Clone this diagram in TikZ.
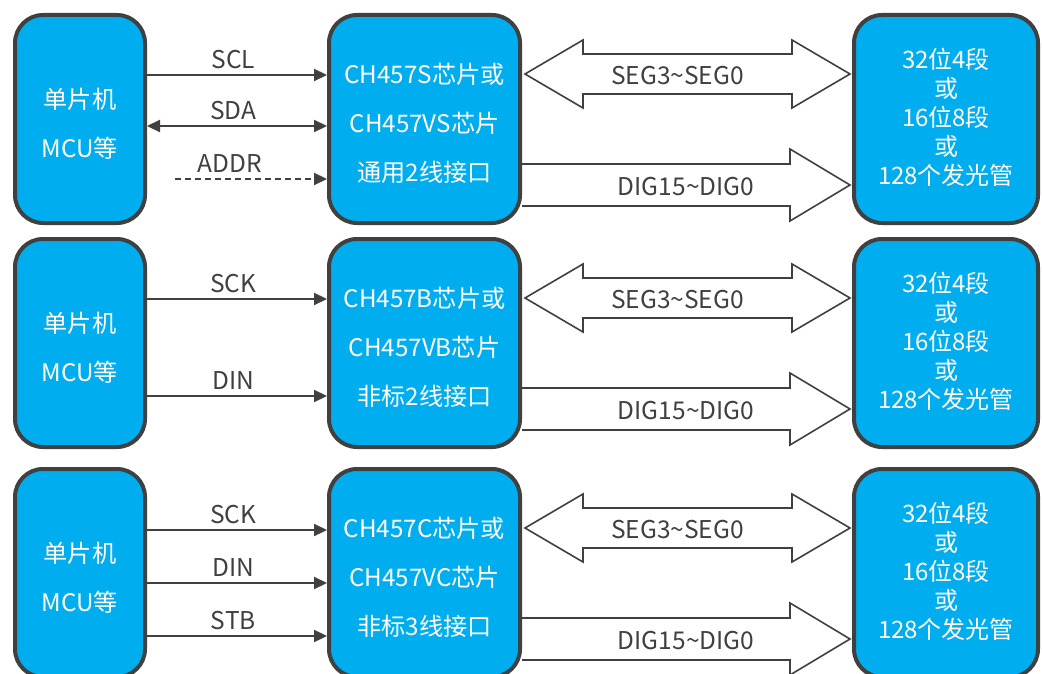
\documentclass[tikz,border=0pt]{standalone}
\usepackage{fontspec}
\setmainfont{Noto Sans CJK SC}
\usetikzlibrary{arrows.meta,calc}
\definecolor{boxblue}{RGB}{0,174,239}
\definecolor{edge}{RGB}{64,64,64}
\begin{document}
\begin{tikzpicture}[x=1pt,y=-1pt,
  blk/.style={draw=edge, line width=4pt, fill=boxblue, rounded corners=28pt,
    inner sep=0pt, minimum height=208pt},
  intext/.style={text=white, align=center, inner sep=0pt,
    font=\fontsize{24.2}{49}\selectfont},
  ledtext/.style={intext, font=\fontsize{24}{29}\selectfont},
  mcu/.style={blk, minimum width=130pt},
  chip/.style={blk, minimum width=191pt},
  led/.style={blk, minimum width=184pt},
  sig/.style={draw=edge, line width=2.2pt, -{Triangle[length=13pt,width=12pt]}},
  bisig/.style={sig, {Triangle[length=13pt,width=12pt]}-{Triangle[length=13pt,width=12pt]}},
  lbl/.style={text=edge, inner sep=0pt, font=\fontsize{24.5}{24.5}\selectfont},
  hollow/.style={draw=edge, line width=1.6pt, line join=miter, fill=white}
]
\useasboundingbox (0,0) rectangle (1042,674);
\clip (0,0) rectangle (1042,674);
\fill[white] (0,0) rectangle (1042,674);

% ---------- row 1 ----------
\node[mcu, label={[intext, yshift=-5pt]center:{单片机\\MCU等}}] (l1) at (80,119) {};
\node[chip, label={[intext, yshift=-4pt]center:{CH457S芯片或\\CH457VS芯片\\通用2线接口}}] (m1) at (424.5,119) {};
\node[led, label={[ledtext, yshift=2pt]center:{32位4段\\或\\16位8段\\或\\128个发光管}}] (r1) at (946,119) {};
\draw[sig]   ([yshift=44pt]l1.east) -- node[lbl, above=5pt, pos=.48] {SCL} ([yshift=44pt]m1.west);
\draw[bisig] ([yshift=-7pt]l1.east) -- node[lbl, above=5pt, pos=.48] {SDA} ([yshift=-7pt]m1.west);
\coordinate (a1) at (175,179);
\draw[sig, dash pattern=on 6pt off 4pt] (a1) -- node[lbl, above=5pt, pos=.36] {ADDR} (a1 -| m1.west);

% ---------- row 2 ----------
\node[mcu, label={[intext, yshift=-5pt]center:{单片机\\MCU等}}] (l2) at (80,343) {};
\node[chip, label={[intext, yshift=-4pt]center:{CH457B芯片或\\CH457VB芯片\\非标2线接口}}] (m2) at (424.5,343) {};
\node[led, label={[ledtext, yshift=2pt]center:{32位4段\\或\\16位8段\\或\\128个发光管}}] (r2) at (946,343) {};
\draw[sig] ([yshift=44pt]l2.east) -- node[lbl, above=5pt, pos=.48] {SCK} ([yshift=44pt]m2.west);
\draw[sig] ([yshift=-53pt]l2.east) -- node[lbl, above=5pt, pos=.48] {DIN} ([yshift=-53pt]m2.west);

% ---------- row 3 ----------
\node[mcu, label={[intext, yshift=-5pt]center:{单片机\\MCU等}}] (l3) at (80,573) {};
\node[chip, label={[intext, yshift=-4pt]center:{CH457C芯片或\\CH457VC芯片\\非标3线接口}}] (m3) at (424.5,573) {};
\node[led, label={[ledtext, yshift=2pt]center:{32位4段\\或\\16位8段\\或\\128个发光管}}] (r3) at (946,573) {};
\draw[sig] ([yshift=43pt]l3.east) -- node[lbl, above=5pt, pos=.48] {SCK} ([yshift=43pt]m3.west);
\draw[sig] ([yshift=-10pt]l3.east) -- node[lbl, above=5pt, pos=.48] {DIN} ([yshift=-10pt]m3.west);
\draw[sig] ([yshift=-63pt]l3.east) -- node[lbl, above=5pt, pos=.48] {STB} ([yshift=-63pt]m3.west);

% ---------- hollow bus arrows ----------
\foreach \i in {1,2,3} {
  \coordinate (sa\i) at ([shift={(3,-45)}]m\i.east);
  \coordinate (sb\i) at ([shift={(-2,-45)}]r\i.west);
  \draw[hollow] (sa\i) -- ++(58,-34) -- ++(0,14) -- ($(sb\i)+(-58,-20)$) -- ++(0,-14)
     -- (sb\i) -- ++(-58,34) -- ++(0,-14) -- ($(sa\i)+(58,20)$) -- ++(0,14) -- cycle;
  \node[lbl] at ($($(sa\i)!.5!(sb\i)$)+(-10,2)$) {SEG3\textasciitilde SEG0};
  \coordinate (da\i) at ([yshift=-66pt]m\i.east);
  \coordinate (db\i) at ([shift={(-2,66)}]r\i.west);
  \draw[hollow, fill=none] ($(da\i)+(0,-21)$) -- ($(db\i)+(-60,-21)$) -- ++(0,-15)
     -- (db\i) -- ++(-60,36) -- ++(0,-15) -- ($(da\i)+(0,21)$);
  \node[lbl] at ($($(da\i)!.5!(db\i)$)+(0,2)$) {DIG15\textasciitilde DIG0};
}
\end{tikzpicture}
\end{document}
